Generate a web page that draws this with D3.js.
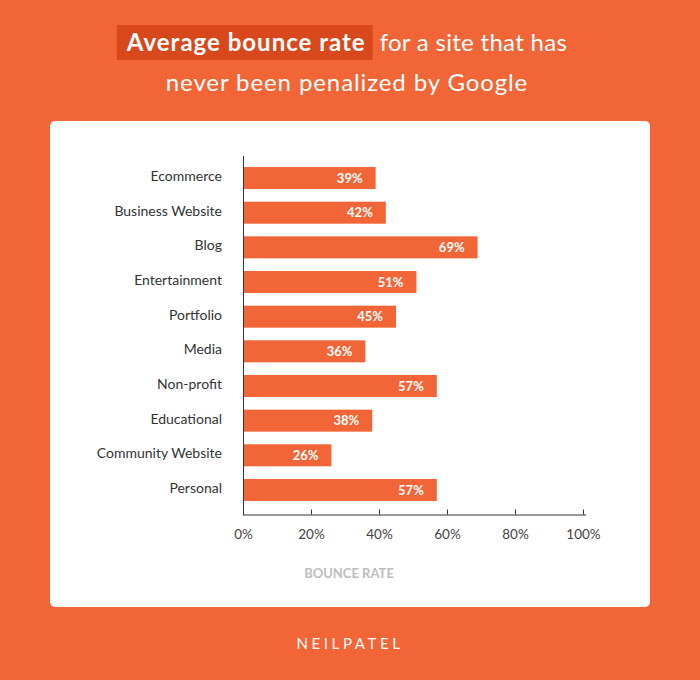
<!DOCTYPE html>
<html><head><meta charset="utf-8">
<script src="https://cdn.jsdelivr.net/npm/d3@7"></script>
<style>body{margin:0;background:#F26536;}svg{display:block;}</style>
</head><body>
<svg id="c" width="700" height="680"></svg>
<script>
const categories = ["Ecommerce","Business Website","Blog","Entertainment","Portfolio","Media","Non-profit","Educational","Community Website","Personal"];
const values = [39,42,69,51,45,36,57,38,26,57];
const tickValues = [0,20,40,60,80,100];
const titleBold = "Average bounce rate";
const titleRest = "for a site that has";
const titleLine2 = "never been penalized by Google";
const axisTitle = "BOUNCE RATE";
const brand = "NEILPATEL";

const FONT = "Lato, 'Open Sans', sans-serif";
const ORANGE = "#F26536";
const svg = d3.select("#c");
svg.append("rect").attr("width",700).attr("height",680).attr("fill",ORANGE);

// Title
const TS = 24;
const tb = svg.append("text").attr("y",51).attr("font-family",FONT).attr("font-weight",700)
  .attr("font-size",TS).attr("letter-spacing",1.0).attr("fill","#fff").text(titleBold);
const tr = svg.append("text").attr("y",51).attr("font-family",FONT).attr("font-weight",400)
  .attr("font-size",TS).attr("letter-spacing",0.3).attr("fill","#fff").text(titleRest);
const wb = tb.node().getComputedTextLength(), wr = tr.node().getComputedTextLength();
const gap = 14;
const total = wb + gap + wr;
const x0 = 347 - total/2;
svg.insert("rect","text").attr("x",x0-10).attr("y",25).attr("width",wb+17).attr("height",35).attr("fill","#D9481C");
tb.attr("x",x0);
tr.attr("x",x0+wb+gap);
svg.append("text").attr("x",347).attr("y",91).attr("text-anchor","middle").attr("font-family",FONT)
  .attr("font-size",TS).attr("letter-spacing",0.9).attr("fill","#fff").text(titleLine2);

// Card
svg.append("rect").attr("x",50).attr("y",121).attr("width",600).attr("height",486).attr("rx",5).attr("fill","#fff");

const x = d3.scaleLinear().domain([0,100]).range([243,583]);
const y = d3.scaleBand().domain(categories).range([160.7,507.3]).paddingInner(0.365).paddingOuter(0.1825);

svg.selectAll("rect.bar").data(categories).join("rect").attr("class","bar")
  .attr("x",x(0)).attr("y",d=>y(d)).attr("height",y.bandwidth())
  .attr("width",(d,i)=>x(values[i])-x(0)).attr("fill",ORANGE);

svg.selectAll("text.val").data(categories).join("text").attr("class","val")
  .attr("x",(d,i)=>x(values[i])-13).attr("y",d=>y(d)+y.bandwidth()/2)
  .attr("dy","0.36em").attr("text-anchor","end").attr("font-family",FONT).attr("font-weight",700)
  .attr("font-size",13).attr("fill","#fff").text((d,i)=>values[i]+"%");

svg.selectAll("text.cat").data(categories).join("text").attr("class","cat")
  .attr("x",222).attr("y",d=>y(d)+y.bandwidth()/2-2).attr("dy","0.36em").attr("text-anchor","end")
  .attr("font-family",FONT).attr("font-size",14).attr("fill","#333").text(d=>d);

// y axis line
svg.append("line").attr("x1",243.5).attr("x2",243.5).attr("y1",156).attr("y2",515).attr("stroke","#333").attr("stroke-width",1);

// x axis
const xAxis = d3.axisBottom(x).tickValues(tickValues).tickFormat(d=>d+"%").tickSizeInner(-5).tickSizeOuter(0).tickPadding(15);
const gx = svg.append("g").attr("transform","translate(0,514.5)").call(xAxis);
gx.select(".domain").attr("stroke","#333").attr("d","M243,0.5H586");
gx.selectAll(".tick line").attr("stroke","#333");
gx.selectAll(".tick text").attr("font-family",FONT).attr("font-size",13.5).attr("fill","#444");

svg.append("text").attr("x",349).attr("y",578).attr("text-anchor","middle").attr("font-family",FONT)
  .attr("font-weight",700).attr("font-size",13).attr("fill","#BDBDBD").text(axisTitle);

svg.append("text").attr("x",350).attr("y",649).attr("text-anchor","middle").attr("font-family",FONT)
  .attr("font-size",15).attr("letter-spacing",3.6).attr("fill","#fff").text(brand);
</script>
</body></html>
